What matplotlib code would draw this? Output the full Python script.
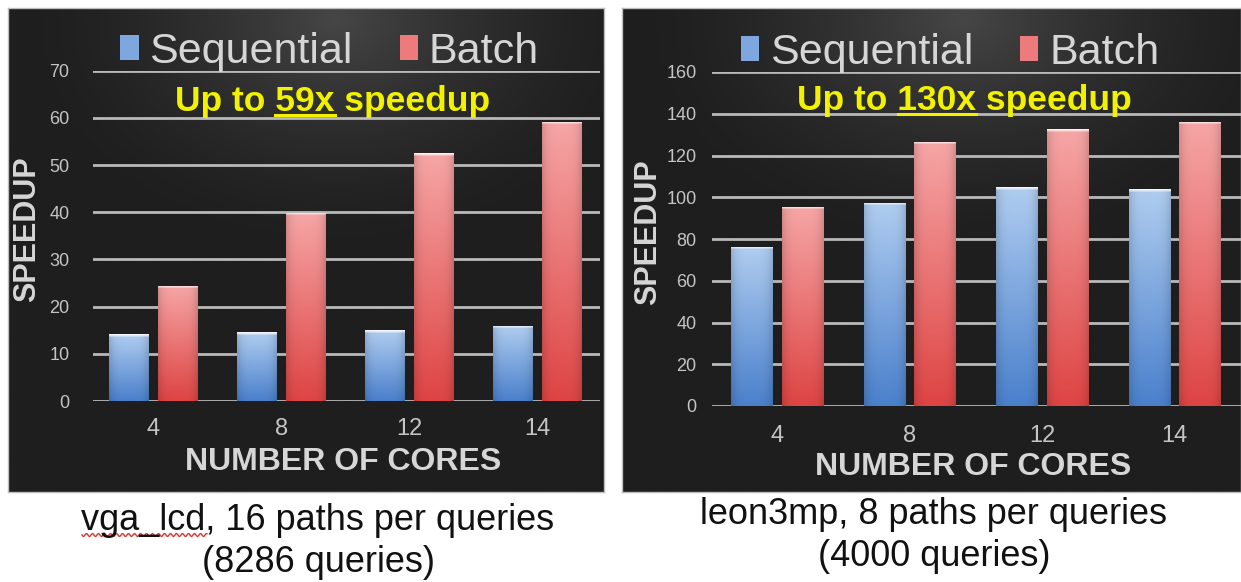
import numpy as np
import matplotlib
matplotlib.use('Agg')
import matplotlib.pyplot as plt
from matplotlib.colors import to_rgb
from matplotlib.lines import Line2D

plt.rcParams['font.family'] = ['Liberation Sans', 'DejaVu Sans']

# ---------------- data ----------------
cores = ['4', '8', '12', '14']
series_names = ['Sequential', 'Batch']
seq_vga = [14.1, 14.6, 15.0, 15.9]
batch_vga = [24.4, 39.9, 52.5, 59.2]
seq_leon = [76.3, 97.4, 104.8, 103.8]
batch_leon = [95.5, 126.6, 132.5, 136.2]
yticks_vga = [0, 10, 20, 30, 40, 50, 60, 70]
yticks_leon = [0, 20, 40, 60, 80, 100, 120, 140, 160]
highlight_vga = '59x'
highlight_leon = '130x'
caption_vga = ['vga_lcd, 16 paths per queries', '(8286 queries)']
caption_leon = ['leon3mp, 8 paths per queries', '(4000 queries)']
xlabel_text = 'NUMBER OF CORES'
ylabel_text = 'SPEEDUP'

# ---------------- layout helpers ----------------
W, H = 1241, 582
DPI = 100
fig = plt.figure(figsize=(W / DPI, H / DPI), dpi=DPI, facecolor='white')


def rect_px(x0, y0, x1, y1):
    return [x0 / W, 1 - y1 / H, (x1 - x0) / W, (y1 - y0) / H]


BLUE_TOP, BLUE_BOT = to_rgb('#b0cdf0'), to_rgb('#4a80cc')
RED_TOP, RED_BOT = to_rgb('#f6a6a6'), to_rgb('#de4444')
TEXT_GRAY = '#d6d6d6'
TICK_GRAY = '#c4c4c4'


def panel_background(prect):
    bg = fig.add_axes(prect, zorder=0)
    ny, nx = 200, 300
    yy, xx = np.mgrid[0:1:ny * 1j, 0:1:nx * 1j]
    d = np.sqrt(((xx - 0.55) / 0.55) ** 2 + ((yy - 0.02) / 0.5) ** 2)
    glow = np.clip(1 - d, 0, 1) ** 1.6
    base = np.array(to_rgb('#1e1e1e'))
    hi = np.array(to_rgb('#464646'))
    img = base[None, None, :] + glow[:, :, None] * (hi - base)[None, None, :]
    bg.imshow(img, extent=(0, 1, 0, 1), aspect='auto', origin='upper',
              interpolation='bilinear')
    bg.set_xticks([])
    bg.set_yticks([])
    for s in bg.spines.values():
        s.set_color('#bdbdbd')
        s.set_linewidth(1.0)
    return bg


def gradient_bars(ax, bars, top, bot, px_per_unit):
    top = np.array(top)
    bot = np.array(bot)
    for b in bars:
        x0 = b.get_x()
        w = b.get_width()
        h = b.get_height()
        n = max(int(round(h * px_per_unit)), 4)
        t = np.linspace(0, 1, n)[:, None, None]
        col = top[None, None, :] * (1 - t) + bot[None, None, :] * t
        m = 40
        fac = 1 - 0.14 * np.abs(np.linspace(-1, 1, m)) ** 4
        img = col * fac[None, :, None]
        img = np.broadcast_to(img, (n, m, 3)).copy()
        for k, a in enumerate([0.85, 0.6, 0.3]):
            if k < n:
                img[k] = img[k] * (1 - a) + a
        img = np.clip(img, 0, 1)
        im = ax.imshow(img, extent=(x0, x0 + w, 0, h), aspect='auto',
                       origin='upper', interpolation='bilinear', zorder=3)
        im.set_clip_path(b)


def make_panel(prect, arect, seq, batch, yticks, xlim, highlight, legend_x,
               ylabel_x, xlabel_y, annot_xy, ytick_pad, xtick_pad):
    panel_background(prect)
    ax = fig.add_axes(arect, zorder=1)
    ax.patch.set_alpha(0)
    x = np.arange(len(cores))
    width = 0.31
    off = 0.19
    b1 = ax.bar(x - off, seq, width, color='#7da7de', zorder=2,
                label=series_names[0], edgecolor='none')
    b2 = ax.bar(x + off, batch, width, color='#ee7b7b', zorder=2,
                label=series_names[1], edgecolor='none')
    ax.set_ylim(yticks[0], yticks[-1])
    ax.set_xlim(*xlim)
    ax.set_autoscale_on(False)
    px_per_unit = arect[3] * H / (yticks[-1] - yticks[0])
    gradient_bars(ax, b1, BLUE_TOP, BLUE_BOT, px_per_unit)
    gradient_bars(ax, b2, RED_TOP, RED_BOT, px_per_unit)
    ax.set_ylim(yticks[0], yticks[-1])
    ax.set_xlim(*xlim)

    ax.set_yticks(yticks)
    ax.set_yticklabels([str(v) for v in yticks], fontsize=13, color=TICK_GRAY)
    ax.set_xticks(x)
    ax.set_xticklabels(cores, fontsize=17, color=TICK_GRAY)
    ax.tick_params(axis='both', length=0)
    ax.tick_params(axis='y', pad=ytick_pad)
    ax.tick_params(axis='x', pad=xtick_pad)
    for s in ax.spines.values():
        s.set_visible(False)
    ax.yaxis.grid(True, color='#b9b9b9', linewidth=2.0, zorder=1)
    ax.set_axisbelow(True)

    ax.text(ylabel_x, 0.52, ylabel_text, rotation=90, ha='center',
            va='center', fontsize=22, fontweight='bold', color=TEXT_GRAY,
            transform=ax.transAxes)
    ax.text(0.493, xlabel_y, xlabel_text, ha='center', va='center',
            fontsize=23, fontweight='bold', color=TEXT_GRAY,
            transform=ax.transAxes)

    leg = ax.legend(handles=[b1, b2], labels=series_names, loc='center',
                    bbox_to_anchor=(legend_x, 1.058), ncol=2, frameon=False,
                    fontsize=31, handlelength=0.42, handleheight=0.5,
                    handletextpad=0.25, columnspacing=1.1, borderaxespad=0)
    for t in leg.get_texts():
        t.set_color(TEXT_GRAY)

    pre, post = 'Up to ', ' speedup'
    full = pre + highlight + post
    kw = dict(fontsize=25.5, fontweight='bold', color='#f2f200')
    txt = ax.text(annot_xy[0], annot_xy[1], full, ha='center', va='center',
                  transform=ax.transAxes, zorder=5, **kw)
    return ax, txt, pre, highlight, kw


ax1, t1, pre1, hl1, kw1 = make_panel(
    rect_px(8, 8, 604, 492), rect_px(93, 70.7, 600, 401),
    seq_vga, batch_vga, yticks_vga, (-0.47, 3.49), highlight_vga,
    legend_x=0.467, ylabel_x=-0.130, xlabel_y=-0.185,
    annot_xy=(0.473, 0.906), ytick_pad=17, xtick_pad=12)

ax2, t2, pre2, hl2, kw2 = make_panel(
    rect_px(622, 8, 1241, 492), rect_px(712, 72, 1241, 406),
    seq_leon, batch_leon, yticks_leon, (-0.49, 3.50), highlight_leon,
    legend_x=0.45, ylabel_x=-0.121, xlabel_y=-0.183,
    annot_xy=(0.478, 0.916), ytick_pad=11, xtick_pad=14)

# underline the highlighted number in each annotation
fig.canvas.draw()
renderer = fig.canvas.get_renderer()
inv = fig.transFigure.inverted()
for ax, txt, pre, hl, kw in [(ax1, t1, pre1, hl1, kw1), (ax2, t2, pre2, hl2, kw2)]:
    bb = txt.get_window_extent(renderer)
    tmp_a = ax.text(0, 0, pre + hl, **kw)
    tmp_b = ax.text(0, 0, hl, **kw)
    wa = tmp_a.get_window_extent(renderer).width
    wb = tmp_b.get_window_extent(renderer).width
    tmp_a.remove()
    tmp_b.remove()
    xa = bb.x0 + wa - wb
    xb = bb.x0 + wa
    yl = bb.y0 + 3
    (fx0, fy0) = inv.transform((xa, yl))
    (fx1, _) = inv.transform((xb, yl))
    fig.add_artist(Line2D([fx0, fx1], [fy0, fy0], color='#f2f200',
                          linewidth=2.2, transform=fig.transFigure, zorder=6))

# captions
cap_kw = dict(ha='center', va='center', fontsize=26, color='#111111')
fig.text(318 / W, 1 - 521 / H, caption_vga[0], **cap_kw)
fig.text(318 / W, 1 - 563 / H, caption_vga[1], **cap_kw)
fig.text(934 / W, 1 - 515 / H, caption_leon[0], **cap_kw)
fig.text(934 / W, 1 - 557 / H, caption_leon[1], **cap_kw)

# spell-check squiggle under "vga_lcd"
sq_x = np.linspace(82, 207, 120)
sq_y = 535 + 1.5 * np.sin((sq_x - 82) / 3.0 * np.pi)
fig.add_artist(Line2D(sq_x / W, 1 - sq_y / H, color='#e03030', linewidth=1.0,
                      transform=fig.transFigure))

fig.savefig('out.png', dpi=DPI, facecolor='white')
